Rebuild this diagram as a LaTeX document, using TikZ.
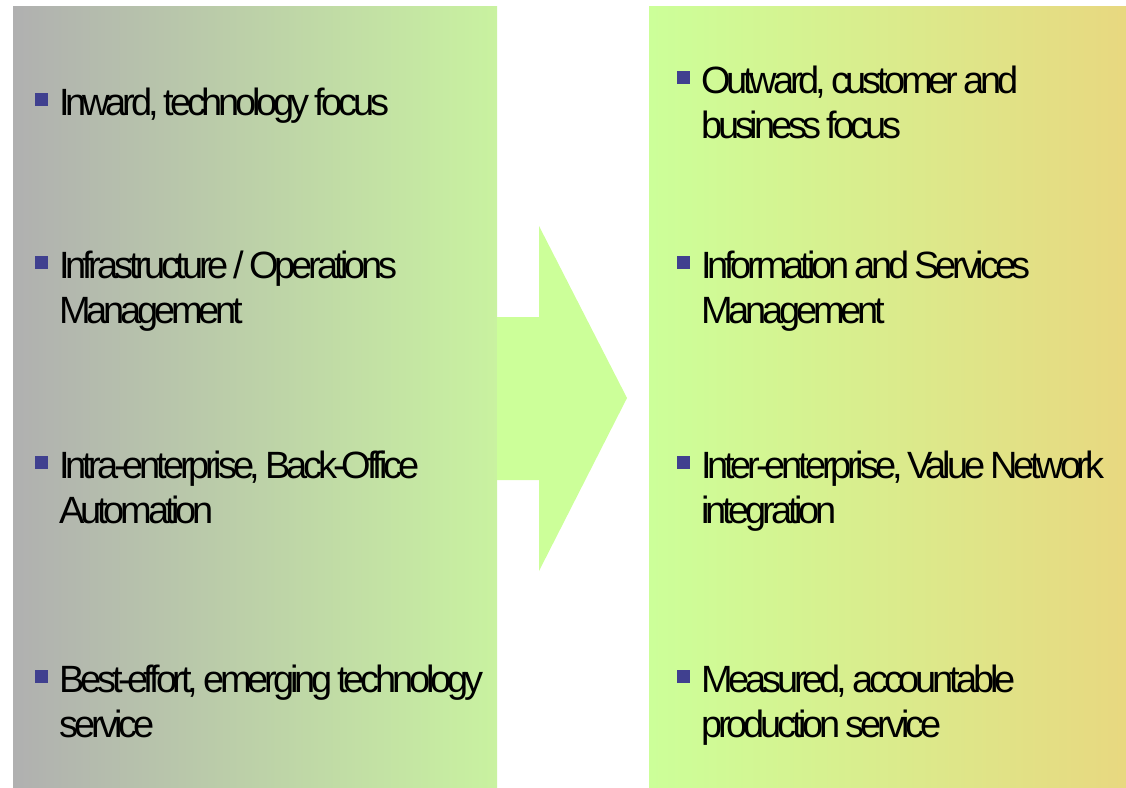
\documentclass[tikz,border=0pt]{standalone}
\usepackage{fontspec}
\setmainfont{Liberation Sans}[LetterSpace=-11]
\usetikzlibrary{positioning}
\definecolor{panelgray}{HTML}{B0B0B0}
\definecolor{panelgreen}{HTML}{C9F2A0}
\definecolor{arrowgreen}{HTML}{CCFF99}
\definecolor{paneltan}{HTML}{E8D880}
\definecolor{bulletblue}{HTML}{40408F}
\newcommand\tightspaces{\spaceskip=5pt\relax\xspaceskip=5pt\relax}

\begin{document}
\begin{tikzpicture}[x=1pt,y=-1pt,
    item/.style={anchor=base west, inner sep=0pt, text width=470pt,
      font=\fontsize{38}{45}\selectfont, execute at begin node=\tightspaces},
    bullet/.style={fill=bulletblue, minimum size=13pt, inner sep=0pt}]

  \useasboundingbox (0,0) rectangle (1126,787);

  % panels
  \shade[left color=panelgray, right color=panelgreen] (13,6) rectangle (497,787);
  \shade[left color=arrowgreen, right color=paneltan] (649,6) rectangle (1126,787);

  % arrow
  \fill[arrowgreen] (497,317) -- (539,317) -- (539,226) -- (627,398)
    -- (539,571) -- (539,480) -- (497,480) -- cycle;

  % left column
  \node[item] (l1) at (59,115) {Inward, technology focus};
  \node[item] (l2) at (59,278) {Infrastructure / Operations\\Management};
  \node[item] (l3) at (59,478) {Intra-enterprise, Back-Office\\Automation};
  \node[item] (l4) at (59,692) {Best-effort, emerging technology\\service};

  % right column
  \node[item] (r1) at (701,93) {Outward, customer and\\business focus};
  \node[item] (r2) at (701,278) {Information and Services\\Management};
  \node[item] (r3) at (701,478) {Inter-enterprise, Value Network\\integration};
  \node[item] (r4) at (701,692) {Measured, accountable\\production service};

  % bullets
  \foreach \n in {l1,l2,l3,l4,r1,r2,r3,r4}
    \node[bullet, left=11pt of \n.base west, yshift=16pt] (b-\n) {};

\end{tikzpicture}
\end{document}
